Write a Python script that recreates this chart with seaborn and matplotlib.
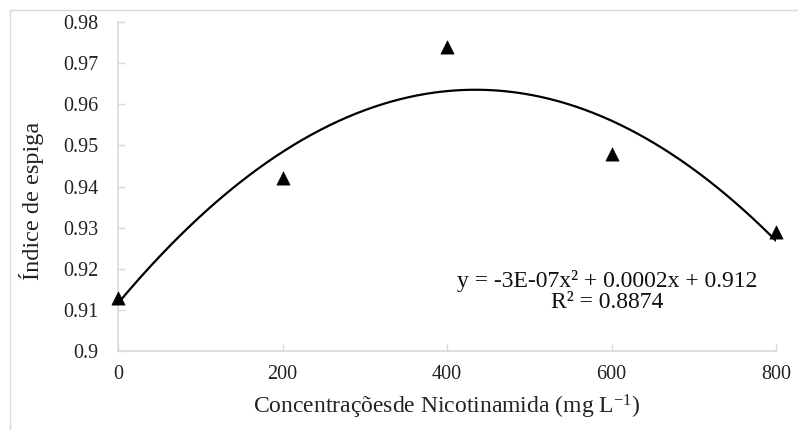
import numpy as np
import pandas as pd
import matplotlib
matplotlib.use("Agg")
import matplotlib.pyplot as plt
import seaborn as sns
from matplotlib.patches import Rectangle

# Nicotinamide concentration (mg/L) and measured ear index
concentracao = [0, 200, 400, 600, 800]
indice_espiga = [0.913, 0.942, 0.974, 0.948, 0.929]

x_ticks = [0, 200, 400, 600, 800]
y_ticks = [0.9, 0.91, 0.92, 0.93, 0.94, 0.95, 0.96, 0.97, 0.98]
y_tick_labels = ["0.9", "0.91", "0.92", "0.93", "0.94", "0.95", "0.96", "0.97", "0.98"]

equacao = "y = -3E-07x² + 0.0002x + 0.912"
r2_texto = "R² = 0.8874"

sns.set_theme(style="white")
plt.rcParams["font.family"] = ["Liberation Serif", "DejaVu Serif"]
plt.rcParams["mathtext.fontset"] = "custom"
plt.rcParams["mathtext.rm"] = "Liberation Serif"
plt.rcParams["mathtext.it"] = "Liberation Serif"

df = pd.DataFrame({"conc": concentracao, "indice": indice_espiga})

# Quadratic trendline fitted to the measurements
coef = np.polyfit(df["conc"], df["indice"], 2)
xs = np.linspace(min(concentracao), max(concentracao), 300)
trend = pd.DataFrame({"conc": xs, "indice": np.polyval(coef, xs)})

fig = plt.figure(figsize=(7.98, 4.30), dpi=100)
ax = fig.add_axes([118 / 798, 1 - 351 / 430, (776 - 118) / 798, (351 - 22) / 430])

# Chart-area border
fig.patches.append(Rectangle((10 / 798, -0.1), 1.2, (420 / 430) + 0.1,
                             transform=fig.transFigure, fill=False,
                             edgecolor="#d9d9d9", linewidth=1.0))

sns.lineplot(data=trend, x="conc", y="indice", ax=ax, color="black",
             linewidth=1.6, zorder=2)
sns.scatterplot(data=df, x="conc", y="indice", ax=ax, marker="^", s=90,
                color="black", edgecolor="black", linewidth=0.5, zorder=3,
                clip_on=False)

ax.set_xlim(0, 800)
ax.set_ylim(0.9, 0.98)
ax.set_xticks(x_ticks)
ax.set_xticklabels([str(v) for v in x_ticks])
ax.set_yticks(y_ticks)
ax.set_yticklabels(y_tick_labels)

for side in ["top", "right"]:
    ax.spines[side].set_visible(False)
for side in ["left", "bottom"]:
    ax.spines[side].set_color("#d9d9d9")
    ax.spines[side].set_linewidth(1.2)

ax.tick_params(axis="both", direction="in", length=5, width=1.0,
               color="#d9d9d9", labelsize=14.5, labelcolor="#222222")
ax.tick_params(axis="x", pad=10, bottom=True)
ax.tick_params(axis="y", pad=14, left=True)

ax.set_xlabel("Concentraçõesde Nicotinamida (mg L$^{-1}$)", fontsize=17,
              color="#222222")
ax.xaxis.label.set_va("center")
ax.xaxis.set_label_coords(0.5, (351 - 407) / 329)

ax.set_ylabel("Índice de espiga", fontsize=17.5, color="#222222")
ax.yaxis.label.set_va("center")
ax.yaxis.label.set_ha("center")
ax.yaxis.set_label_coords((32 - 118) / 658, (351 - 201) / 329)

fig.text(607 / 798, 1 - 281 / 430, equacao, ha="center", va="center",
         fontsize=17, color="#111111")
fig.text(607 / 798, 1 - 303 / 430, r2_texto, ha="center", va="center",
         fontsize=17, color="#111111")

fig.savefig("out.png", dpi=100)
